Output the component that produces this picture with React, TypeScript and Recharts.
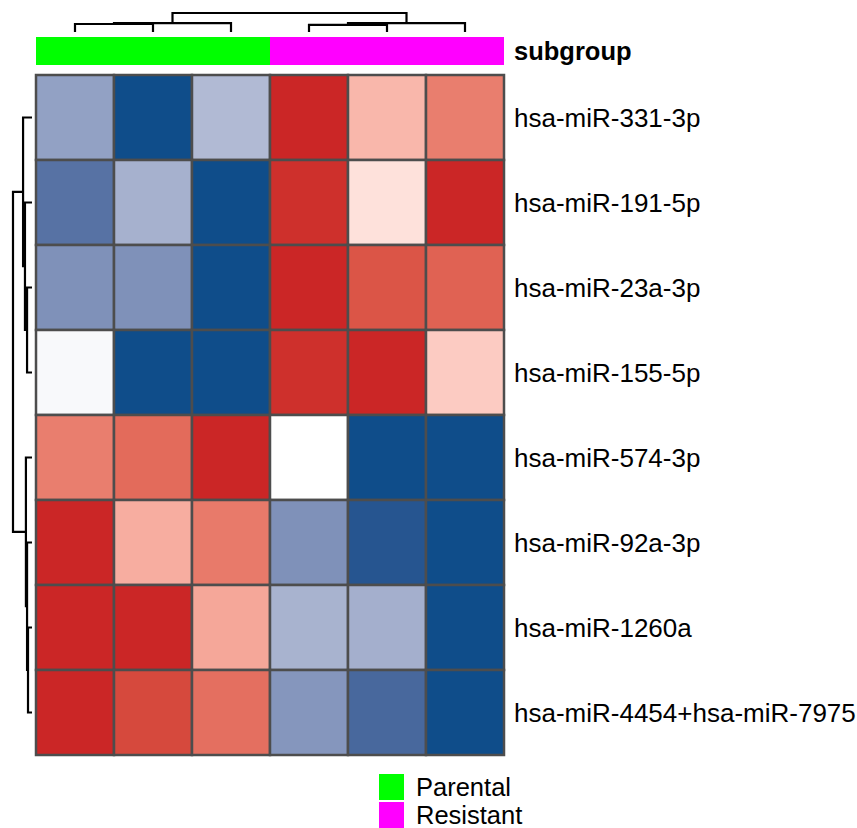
import { ScatterChart, Scatter, XAxis, YAxis } from 'recharts'

// heatmap of scaled expression, rows already in dendrogram order
const ROWS = [
  'hsa-miR-331-3p',
  'hsa-miR-191-5p',
  'hsa-miR-23a-3p',
  'hsa-miR-155-5p',
  'hsa-miR-574-3p',
  'hsa-miR-92a-3p',
  'hsa-miR-1260a',
  'hsa-miR-4454+hsa-miR-7975',
]

const SUBGROUP = ['Parental', 'Parental', 'Parental', 'Resistant', 'Resistant', 'Resistant']

const VALUES = [
  [-0.5, -1, -0.36, 1, 0.36, 0.64],
  [-0.77, -0.41, -1, 0.97, 0.15, 1],
  [-0.59, -0.59, -1, 1, 0.83, 0.77],
  [-0.03, -1, -1, 0.97, 1, 0.26],
  [0.64, 0.73, 1, 0, -1, -1],
  [1, 0.41, 0.66, -0.59, -0.95, -1],
  [1, 1, 0.44, -0.4, -0.42, -1],
  [1, 0.88, 0.71, -0.56, -0.83, -1],
]

// hclust style merges: [a, b, height]; leaves 0..n-1, merge k gets id n+k
const COL_MERGES = [
  [0, 1, 0.42],
  [6, 2, 0.47],
  [3, 4, 0.37],
  [8, 5, 0.47],
  [7, 9, 1.0],
]
const ROW_MERGES = [
  [2, 3, 0.26],
  [1, 8, 0.37],
  [0, 9, 0.47],
  [6, 7, 0.21],
  [5, 11, 0.26],
  [4, 12, 0.32],
  [10, 13, 1.0],
]

const GROUPS = ['Parental', 'Resistant']
const GROUP_COLOR: Record<string, string> = { Parental: '#00FF00', Resistant: '#FF00FF' }

const W = 857
const H = 828
const X0 = 36
const Y0 = 75
const CW = 78
const CH = 85
const ANNOT_H = 28
const BORDER = '#4D4D4D'
const FONT = '"Liberation Sans", Arial, sans-serif'

// pixel -> data units
const ux = (px: number) => (px - X0) / CW
const vy = (px: number) => (px - Y0) / CH

// lab interpolation, blue - white - red
function toLab(hex: string) {
  const c = [1, 3, 5].map(i => parseInt(hex.slice(i, i + 2), 16) / 255)
    .map(v => (v <= 0.04045 ? v / 12.92 : ((v + 0.055) / 1.055) ** 2.4))
  const X = (0.4124 * c[0] + 0.3576 * c[1] + 0.1805 * c[2]) / 0.95047
  const Y = 0.2126 * c[0] + 0.7152 * c[1] + 0.0722 * c[2]
  const Z = (0.0193 * c[0] + 0.1192 * c[1] + 0.9505 * c[2]) / 1.08883
  const f = (t: number) => (t > 0.008856 ? Math.cbrt(t) : 7.787 * t + 16 / 116)
  return [116 * f(Y) - 16, 500 * (f(X) - f(Y)), 200 * (f(Y) - f(Z))]
}
function fromLab([L, a, b]: number[]) {
  const fy = (L + 16) / 116
  const fx = fy + a / 500
  const fz = fy - b / 200
  const inv = (t: number) => (t ** 3 > 0.008856 ? t ** 3 : (t - 16 / 116) / 7.787)
  const X = 0.95047 * inv(fx), Y = inv(fy), Z = 1.08883 * inv(fz)
  const lin = [
    3.2406 * X - 1.5372 * Y - 0.4986 * Z,
    -0.9689 * X + 1.8758 * Y + 0.0415 * Z,
    0.0557 * X - 0.204 * Y + 1.057 * Z,
  ]
  return '#' + lin.map(v => {
    const s = v <= 0.0031308 ? 12.92 * v : 1.055 * v ** (1 / 2.4) - 0.055
    return Math.round(Math.min(1, Math.max(0, s)) * 255).toString(16).padStart(2, '0')
  }).join('')
}
const BLUE = toLab('#0F4D8A')
const WHITE = toLab('#FFFFFF')
const RED = toLab('#CB2626')
function colorFor(v: number) {
  const end = v < 0 ? BLUE : RED
  const t = Math.min(1, Math.abs(v))
  return fromLab(WHITE.map((w, i) => w + (end[i] - w) * t))
}

// dendrogram polylines in (position, height)
function dendro(merges: number[][], n: number) {
  const pos: number[] = Array.from({ length: n }, (_, i) => i + 0.5)
  const hgt: number[] = Array(n).fill(0)
  return merges.map(([a, b, h]) => {
    const seg = [
      { p: pos[a], h: hgt[a] },
      { p: pos[a], h },
      { p: pos[b], h },
      { p: pos[b], h: hgt[b] },
    ]
    pos.push((pos[a] + pos[b]) / 2)
    hgt.push(h)
    return seg
  })
}

const topLines = dendro(COL_MERGES, SUBGROUP.length).map(seg =>
  seg.map(s => ({ x: s.p, y: vy(32) - s.h * (19 / CH) })))
const leftLines = dendro(ROW_MERGES, ROWS.length).map(seg =>
  seg.map(s => ({ x: ux(32) - s.h * (19 / CW), y: s.p })))

const cells = VALUES.flatMap((row, i) =>
  row.map((v, j) => ({ x: j + 0.5, y: i + 0.5, fill: colorFor(v) })))
const annot = SUBGROUP.map((g, j) => ({ x: j + 0.5, y: vy(51), fill: GROUP_COLOR[g] }))
const rowLabels = ROWS.map((label, i) => ({ x: SUBGROUP.length, y: i + 0.5, label }))
const annotLabel = [{ x: SUBGROUP.length, y: vy(51), label: 'subgroup' }]

const Cell = (p: any) => (
  <rect x={p.cx - CW / 2} y={p.cy - CH / 2} width={CW} height={CH}
    fill={p.payload.fill} stroke={BORDER} strokeWidth={2.5} />
)
const AnnotCell = (p: any) => (
  <rect x={p.cx - CW / 2} y={p.cy - ANNOT_H / 2} width={CW} height={ANNOT_H}
    fill={p.payload.fill} />
)
const Label = (bold: boolean) => (p: any) => (
  <text x={p.cx + 10} y={p.cy} dominantBaseline="central" fontSize={bold ? 25.5 : 26}
    fontFamily={FONT} fontWeight={bold ? 'bold' : 'normal'} fill="#000">
    {p.payload.label}
  </text>
)
const Nothing = () => <g />

export default function App() {
  return (
    <div style={{ position: 'absolute', left: 0, top: 0, width: W, height: H, background: '#fff', overflow: 'hidden' }}>
      <ScatterChart width={W} height={H} margin={{ top: 0, right: 0, bottom: 0, left: 0 }}>
        <XAxis type="number" dataKey="x" hide allowDataOverflow domain={[ux(0), ux(W)]} />
        <YAxis type="number" dataKey="y" hide allowDataOverflow reversed domain={[vy(0), vy(H)]} />
        <Scatter data={annot} shape={AnnotCell} isAnimationActive={false} />
        <Scatter data={cells} shape={Cell} isAnimationActive={false} />
        {topLines.map((d, i) => (
          <Scatter key={'t' + i} data={d} shape={Nothing} line={{ stroke: '#000', strokeWidth: 2.2 }}
            lineType="joint" isAnimationActive={false} />
        ))}
        {leftLines.map((d, i) => (
          <Scatter key={'l' + i} data={d} shape={Nothing} line={{ stroke: '#000', strokeWidth: 2.2 }}
            lineType="joint" isAnimationActive={false} />
        ))}
        <Scatter data={rowLabels} shape={Label(false)} isAnimationActive={false} />
        <Scatter data={annotLabel} shape={Label(true)} isAnimationActive={false} />
      </ScatterChart>

      <div style={{ position: 'absolute', left: 379, top: 774, fontFamily: FONT, fontSize: 25.5 }}>
        {GROUPS.map(g => (
          <div key={g} style={{ display: 'flex', alignItems: 'center', height: 26, marginBottom: 2 }}>
            <div style={{ width: 25, height: 26, background: GROUP_COLOR[g] }} />
            <span style={{ marginLeft: 12, lineHeight: '22px' }}>{g}</span>
          </div>
        ))}
      </div>
    </div>
  )
}
